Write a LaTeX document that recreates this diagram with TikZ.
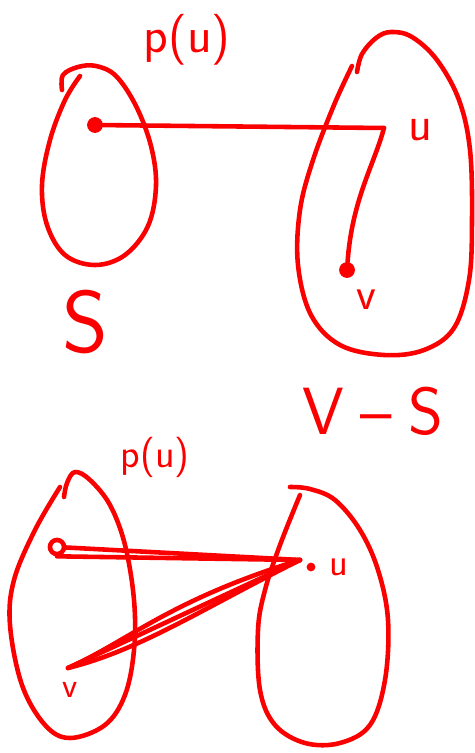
\documentclass[tikz,border=0pt]{standalone}
\usepackage{tikz}
\usetikzlibrary{positioning}
\definecolor{PenRed}{RGB}{250, 0, 0}

\begin{document}
\begin{tikzpicture}[
    x=0.02cm, y=-0.02cm,
    pen/.style={draw=PenRed, line width=2.6pt, line cap=round, line join=round},
    blob/.style={pen, smooth, tension=0.6},
    edge/.style={pen},
    dotmark/.style={circle, fill=PenRed, inner sep=0pt, minimum size=9pt},
    hand/.style={text=PenRed, font=\sffamily, inner sep=0pt}
]
\useasboundingbox (0,0) rectangle (474,753);

% top: S and V-S
\draw[blob] plot coordinates {(62,90) (63,75) (78,67) (96,66) (116,76) (136,106) (151,146) (156,186) (148,226) (125,255) (95,265) (65,255) (47,225) (42,185) (50,140) (65,100) (80,76)};
\draw[blob] plot coordinates {(357,72) (362,54) (376,38) (391,32) (412,37) (437,60) (459,100) (470,150) (472,220) (469,280) (454,328) (424,350) (384,355) (340,345) (311,315) (298,265) (300,210) (313,160) (334,105) (352,66)};

\coordinate (pu1) at (95,125);
\coordinate (u1) at (384,128);
\coordinate (v1) at (347,270);
\node[dotmark] (pud) at (pu1) {};
\node[dotmark] (vd) at (v1) {};

\draw[edge] (pud) -- (u1);
\draw[edge] (u1) .. controls (374,165) and (352,200) .. (vd);

\node[hand, font=\sffamily\fontsize{29}{29}\selectfont] (pl1) at (187,40) {p(u)};
\node[hand, font=\sffamily\fontsize{28}{28}\selectfont] (ul1) at (420,130) {u};
\node[hand, font=\sffamily\fontsize{26}{26}\selectfont] (vl1) at (366,300) {v};
\node[hand, font=\sffamily\fontsize{50}{50}\selectfont] (sl) at (85,322) {S};
\node[hand, font=\sffamily\fontsize{38}{38}\selectfont] (vsl) at (373,411) {V\hspace{0.25em}--\hspace{0.25em}S};

% bottom: p(u) and v both in S
\draw[blob] plot coordinates {(64,497) (67,483) (75,472) (90,480) (110,505) (125,545) (134,600) (134,650) (125,695) (105,725) (70,738) (45,725) (22,685) (10,625) (14,580) (35,530) (60,487)};
\draw[blob] plot coordinates {(290,487) (310,489) (335,500) (360,530) (378,570) (388,620) (385,680) (370,725) (340,743) (305,743) (275,725) (260,690) (258,630) (265,590) (280,545) (300,495)};

\coordinate (pu2) at (57,547);
\coordinate (u2) at (300,560);
\coordinate (v2) at (68,668);
\node[draw=PenRed, line width=2.6pt, circle, inner sep=0pt, minimum size=8pt] (pud2) at (pu2) {};
\node[dotmark, minimum size=5pt] (ud2) at (311,567) {};

\draw[edge] (pud2) -- (u2);
\draw[edge] (pud2.south) -- (u2);
\draw[edge] (v2) -- (u2);
\draw[edge] (v2) .. controls (130,640) and (170,600) .. (u2);
\draw[edge] (v2) .. controls (140,650) and (200,610) .. (u2);

\node[hand, font=\sffamily\fontsize{23}{23}\selectfont] (pl2) at (155,457) {p(u)};
\node[hand, font=\sffamily\fontsize{22}{22}\selectfont] (ul2) at (339,567) {u};
\node[hand, font=\sffamily\fontsize{20}{20}\selectfont] (vl2) at (70,690) {v};

\end{tikzpicture}
\end{document}
